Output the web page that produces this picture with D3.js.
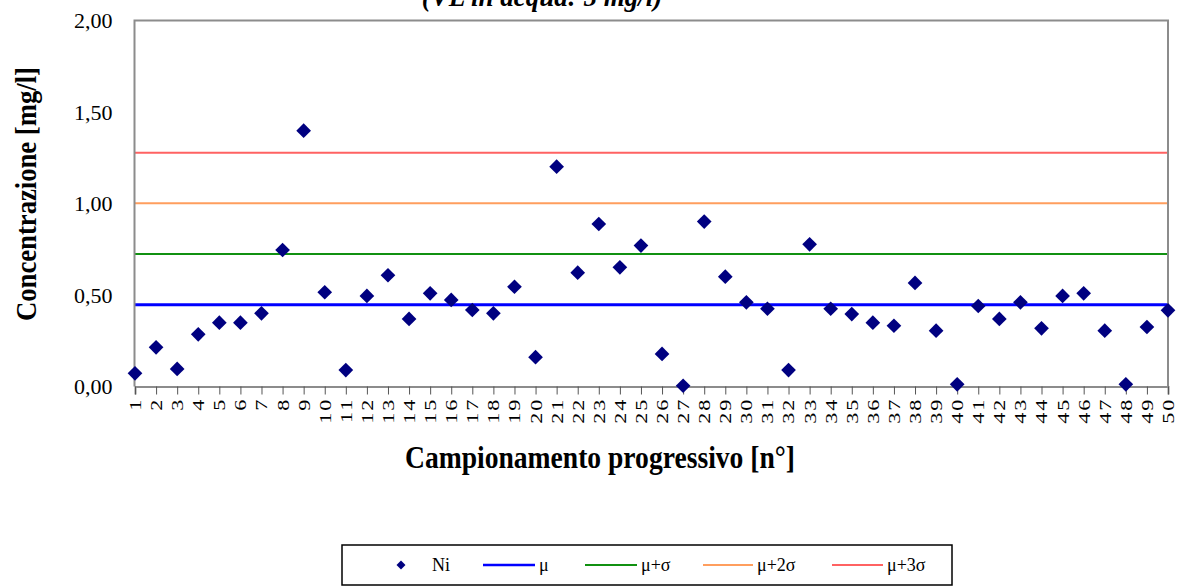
<!DOCTYPE html>
<html><head><meta charset="utf-8">
<script src="https://cdn.jsdelivr.net/npm/d3@7"></script>
<style>
html,body{margin:0;padding:0;background:#fff;}
svg{display:block;font-family:"Liberation Serif","Times New Roman",serif;}
</style></head>
<body>
<svg id="c" width="1177" height="588"></svg>
<script>
const categories = [1,2,3,4,5,6,7,8,9,10,11,12,13,14,15,16,17,18,19,20,21,22,23,24,25,26,27,28,29,30,31,32,33,34,35,36,37,38,39,40,41,42,43,44,45,46,47,48,49,50];
const niValues = [0.072,0.214,0.096,0.285,0.349,0.349,0.400,0.746,1.398,0.515,0.090,0.495,0.608,0.369,0.509,0.473,0.418,0.400,0.545,0.160,1.201,0.622,0.888,0.651,0.770,0.178,0.004,0.901,0.600,0.460,0.425,0.090,0.777,0.425,0.396,0.349,0.332,0.566,0.305,0.012,0.440,0.369,0.460,0.318,0.495,0.509,0.305,0.012,0.325,0.416];
const statNames = ["μ","μ+σ","μ+2σ","μ+3σ"];
const statValues = [0.447,0.724,1.001,1.278];
const statColors = ["#0000ff","#119111","#ff9e5e","#ff6262"];
const statWidths = [3,2,2,2];
const yTicks = [0,0.5,1,1.5,2];
const titleText = "(VL in acqua: 5 mg/l)";
const yTitle = "Concentrazione [mg/l]";
const xTitle = "Campionamento progressivo [n°]";

const svg = d3.select("#c");
svg.append("rect").attr("width",1177).attr("height",588).attr("fill","#fff");

const L=134.5, R=1168, T=20.5, B=386.5;
const x = d3.scaleLinear().domain([1,50]).range([L+0.5,R]);
const y = d3.scaleLinear().domain([0,2]).range([B,T]);

// title (cut off at top, as in the original)
svg.append("text").attr("x",542).attr("y",6).attr("text-anchor","middle")
  .attr("font-size",27).attr("font-weight","bold").attr("font-style","italic").text(titleText);

// stat lines
svg.append("g").selectAll("line").data(statValues).join("line")
  .attr("x1",L).attr("x2",R).attr("y1",d=>y(d)).attr("y2",d=>y(d))
  .attr("stroke",(d,i)=>statColors[i]).attr("stroke-width",(d,i)=>statWidths[i]);

// frame
const frame = svg.append("g").attr("stroke","#8c8c8c").attr("stroke-width",2).attr("fill","none");
frame.append("path").attr("d",`M${L},${B}V${T}H${R}V${B}`);

// x axis
const xAxis = d3.axisBottom(x).tickValues(categories).tickSize(8).tickFormat("");
const gx = svg.append("g").attr("transform",`translate(0,${B})`).call(xAxis);
gx.select(".domain").attr("stroke","#8c8c8c").attr("stroke-width",2);
gx.selectAll(".tick line").attr("stroke","#555").attr("stroke-width",1);
svg.append("g").selectAll("text").data(categories).join("text")
  .attr("transform",d=>`translate(${x(d)},${B+10}) rotate(-90) scale(1.3,1)`)
  .attr("text-anchor","end").attr("dy","0.35em").attr("dx","-1")
  .attr("letter-spacing","1.5px").attr("font-size",17).attr("fill","#000")
  .text(d=>d);

// y axis labels
const yAxis = d3.axisLeft(y).tickValues(yTicks).tickSize(0).tickPadding(22)
  .tickFormat(d=>d3.format(".2f")(d).replace(".",","));
const gy = svg.append("g").attr("transform",`translate(${L},0)`).call(yAxis);
gy.select(".domain").remove();
gy.selectAll("text").attr("font-size",22).attr("font-family","Liberation Serif, serif").attr("fill","#000");

// points (square rotated 45° = diamond)
const sq = d3.symbol().type(d3.symbolSquare).size(108);
svg.append("g").selectAll("path").data(niValues).join("path")
  .attr("transform",(d,i)=>`translate(${x(categories[i])},${y(d)}) rotate(45)`)
  .attr("d",sq).attr("fill","#000080");

// axis titles
svg.append("text").attr("transform",`translate(36,194) rotate(-90)`).attr("text-anchor","middle")
  .attr("font-size",29).attr("font-weight","bold").attr("textLength",254).attr("lengthAdjust","spacingAndGlyphs").text(yTitle);
svg.append("text").attr("x",600).attr("y",468).attr("text-anchor","middle")
  .attr("font-size",31).attr("font-weight","bold").attr("textLength",390).attr("lengthAdjust","spacingAndGlyphs").text(xTitle);

// legend
const lg = svg.append("g");
lg.append("rect").attr("x",342).attr("y",545).attr("width",610).attr("height",40)
  .attr("fill","#fff").attr("stroke","#000").attr("stroke-width",1.5);
const ly = 565;
lg.append("path").attr("transform",`translate(401,${ly}) rotate(45)`).attr("d",d3.symbol().type(d3.symbolSquare).size(40)).attr("fill","#000080");
lg.append("text").attr("x",432).attr("y",ly).attr("dy","0.35em").attr("font-size",18).text("Ni");
const lineX = [483,585,703,832];
const lineW = [52,52,50,51];
statNames.forEach((n,i)=>{
  lg.append("line").attr("x1",lineX[i]).attr("x2",lineX[i]+lineW[i]).attr("y1",ly).attr("y2",ly)
    .attr("stroke",statColors[i]).attr("stroke-width",i===0?2.5:2);
  lg.append("text").attr("x",lineX[i]+lineW[i]+4).attr("y",ly).attr("dy","0.35em").attr("font-size",18).text(n);
});
</script>
</body></html>
